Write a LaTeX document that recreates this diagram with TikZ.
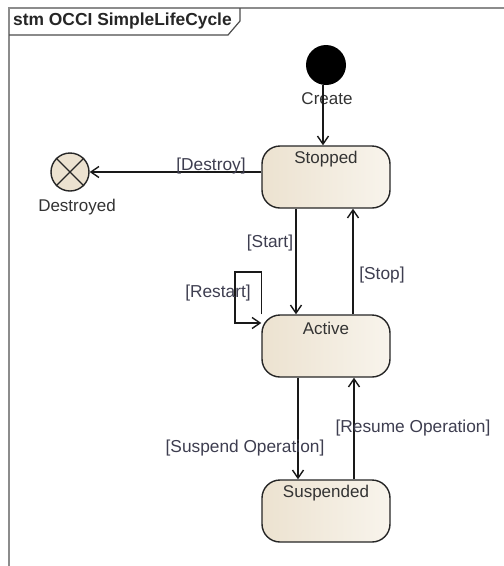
\documentclass[tikz,border=0pt]{standalone}
\usepackage{fontspec}
\setmainfont{Liberation Sans}
\usetikzlibrary{arrows.meta,calc}
\definecolor{framec}{HTML}{8C8C8C}
\definecolor{statel}{HTML}{ECE2D0}
\definecolor{stater}{HTML}{F8F4EC}
\definecolor{lblc}{HTML}{3E3E50}
\definecolor{txtc}{HTML}{333333}
\tikzset{
  statebox/.style={draw=black!85, line width=1.4pt, rounded corners=18pt,
    minimum width=128pt, minimum height=62pt, left color=statel, right color=stater},
  stlabel/.style={font=\fontsize{17}{19}\selectfont, text=txtc, inner sep=0pt},
  edgelbl/.style={font=\fontsize{17.3}{19}\selectfont, text=lblc, inner sep=0pt},
  arr/.style={draw=black!90, line width=1.4pt, -{Straight Barb[length=8pt,width=11pt,line width=1.4pt]}},
}
\begin{document}
\begin{tikzpicture}[x=1pt,y=-1pt]
\useasboundingbox (0,0) rectangle (504,566);
\fill[white] (0,0) rectangle (504,566);
% frame
\draw[framec, line width=1.5pt] (9,580) -- (9,8) -- (520,8);
\draw[black!70, line width=1.2pt] (9,35) -- (228,35) -- (240,21) -- (240,8);
\node[anchor=west, font=\bfseries\fontsize{17.4}{19}\selectfont, text=black!85, inner sep=0pt] (title) at (13,21) {stm OCCI SimpleLifeCycle};
% states
\node[statebox] (stop) at (326,177) {};
\node[stlabel] (stoptxt) at (326,159) {Stopped};
\node[statebox] (act) at (326,346) {};
\node[stlabel] (acttxt) at (326,328) {Active};
\node[statebox] (susp) at (326,511) {};
\node[stlabel] (susptxt) at (326,493) {Suspended};
% initial
\node[circle, fill=black, minimum size=40pt, inner sep=0pt] (init) at (326,65) {};
\node[stlabel] (create) at (327,99) {Create};
% destroyed
\node[circle, draw=black!85, line width=1.4pt, fill=statel, minimum size=38pt, inner sep=0pt] (des) at (70,172) {};
\draw[black!85, line width=1.4pt] (des.north west) -- (des.south east) (des.north east) -- (des.south west);
\node[stlabel] (destxt) at (77,207) {Destroyed};
% transitions
\draw[arr] ([xshift=-3pt]init.south) -- ([xshift=-3pt]stop.north);
\draw[arr] ([yshift=5pt]stop.west) -- (des.east);
\node[edgelbl] (ldes) at (211,166) {[Destroy]};
\draw[arr] ([xshift=-30pt]stop.south) -- ([xshift=-30pt]act.north);
\node[edgelbl] (lstart) at (270,243) {[Start]};
\draw[arr] ([xshift=27pt]act.north) -- ([xshift=27pt]stop.south);
\node[edgelbl] (lstop) at (382,275) {[Stop]};
\coordinate (r1) at (235,272);
\draw[arr] (act.north west) |- (r1) |- (act.west |- {(0,323)});
\node[edgelbl] (lrestart) at (218,293) {[Restart]};
\draw[arr] ([xshift=-28pt]act.south) -- ([xshift=-28pt]susp.north);
\node[edgelbl] (lsusp) at (245,448) {[Suspend Operation]};
\draw[arr] ([xshift=28pt]susp.north) -- ([xshift=28pt]act.south);
\node[edgelbl] (lres) at (413,428) {[Resume Operation]};
\end{tikzpicture}
\end{document}
